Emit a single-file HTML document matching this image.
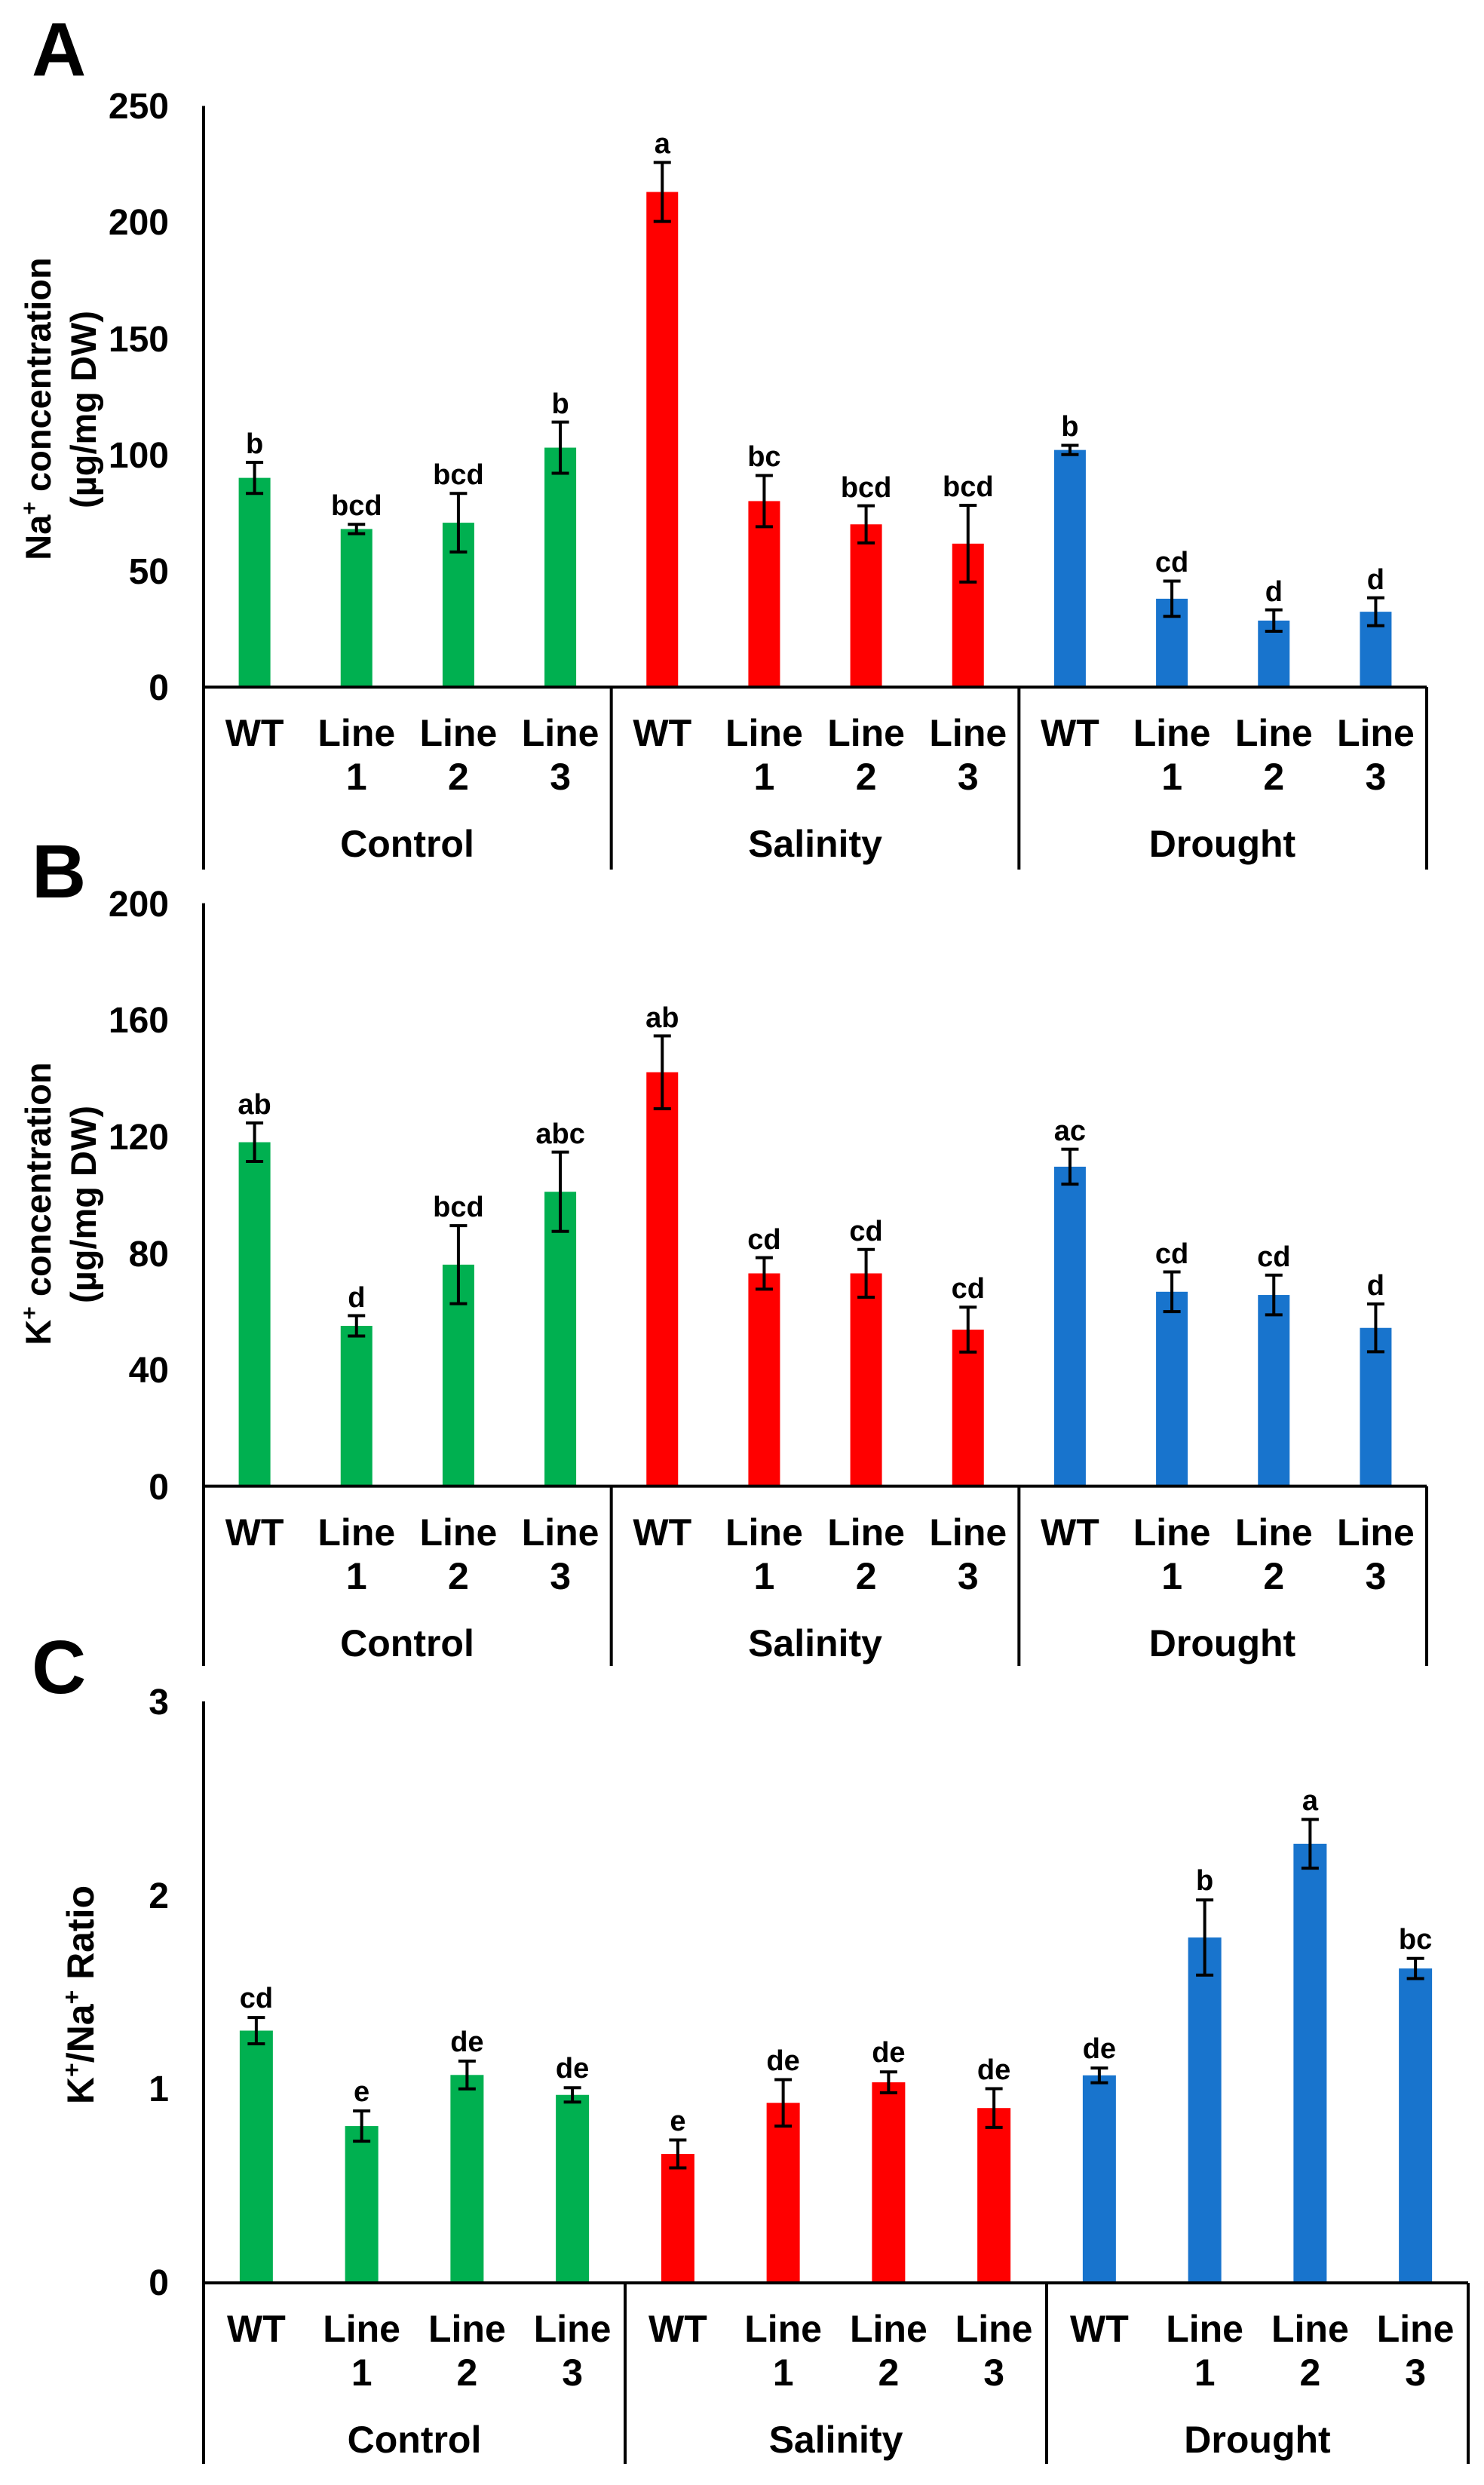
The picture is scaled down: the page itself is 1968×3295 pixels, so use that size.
<!DOCTYPE html>
<html><head><meta charset="utf-8"><style>
html,body{margin:0;padding:0;background:#fff;}
svg{display:block;}
text{font-family:"Liberation Sans",Arial,sans-serif;fill:#000;}
.b{font-weight:bold;}
.tk{font-size:48px;font-weight:bold;text-anchor:end;}
.cat{font-size:50px;font-weight:bold;text-anchor:middle;}
.lt{font-size:38px;font-weight:bold;text-anchor:middle;}
.ttl{font-size:50px;text-anchor:middle;}
.ttl2{font-size:47px;font-weight:bold;text-anchor:middle;}
.pl{font-size:100px;font-weight:bold;}
</style></head><body>
<svg id="s" width="1968" height="3295" viewBox="0 0 1968 3295" xmlns="http://www.w3.org/2000/svg">
<g id="g"></g>
<text class="pl" x="42" y="100">A</text>
<text class="pl" x="42" y="1190">B</text>
<text class="pl" x="42" y="2245">C</text>

<text class="tk" x="224" y="928">0</text>
<text class="tk" x="224" y="774">50</text>
<text class="tk" x="224" y="620">100</text>
<text class="tk" x="224" y="466">150</text>
<text class="tk" x="224" y="311">200</text>
<text class="tk" x="224" y="157">250</text>
<text class="ttl2" transform="translate(67,542) rotate(-90)">Na<tspan font-size="30" dy="-18">+</tspan><tspan dy="18"> concentration</tspan></text>
<text class="ttl2" transform="translate(127,543) rotate(-90)">(µg/mg DW)</text>

<text class="tk" x="224" y="1988">0</text>
<text class="tk" x="224" y="1833">40</text>
<text class="tk" x="224" y="1679">80</text>
<text class="tk" x="224" y="1524">120</text>
<text class="tk" x="224" y="1369">160</text>
<text class="tk" x="224" y="1215">200</text>
<text class="ttl2" transform="translate(67,1596) rotate(-90)">K<tspan font-size="30" dy="-18">+</tspan><tspan dy="18"> concentration</tspan></text>
<text class="ttl2" transform="translate(127,1597) rotate(-90)">(µg/mg DW)</text>

<text class="tk" x="224" y="3043">0</text>
<text class="tk" x="224" y="2786">1</text>
<text class="tk" x="224" y="2530">2</text>
<text class="tk" x="224" y="2273">3</text>
<text class="ttl b" transform="translate(124,2645) rotate(-90)">K<tspan font-size="32" dy="-18">+</tspan><tspan dy="18">/Na</tspan><tspan font-size="32" dy="-18">+</tspan><tspan dy="18"> Ratio</tspan></text>

<g>
<text class="cat" x="337.6" y="989">WT</text>
<text class="cat" x="472.8" y="989">Line</text><text class="cat" x="472.8" y="1047">1</text>
<text class="cat" x="607.9" y="989">Line</text><text class="cat" x="607.9" y="1047">2</text>
<text class="cat" x="743.1" y="989">Line</text><text class="cat" x="743.1" y="1047">3</text>
<text class="cat" x="878.3" y="989">WT</text>
<text class="cat" x="1013.4" y="989">Line</text><text class="cat" x="1013.4" y="1047">1</text>
<text class="cat" x="1148.6" y="989">Line</text><text class="cat" x="1148.6" y="1047">2</text>
<text class="cat" x="1283.8" y="989">Line</text><text class="cat" x="1283.8" y="1047">3</text>
<text class="cat" x="1418.9" y="989">WT</text>
<text class="cat" x="1554.1" y="989">Line</text><text class="cat" x="1554.1" y="1047">1</text>
<text class="cat" x="1689.3" y="989">Line</text><text class="cat" x="1689.3" y="1047">2</text>
<text class="cat" x="1824.4" y="989">Line</text><text class="cat" x="1824.4" y="1047">3</text>
<text class="cat" x="540" y="1136">Control</text>
<text class="cat" x="1081" y="1136">Salinity</text>
<text class="cat" x="1621" y="1136">Drought</text>
</g>
<g>
<text class="cat" x="337.6" y="2049">WT</text>
<text class="cat" x="472.8" y="2049">Line</text><text class="cat" x="472.8" y="2107">1</text>
<text class="cat" x="607.9" y="2049">Line</text><text class="cat" x="607.9" y="2107">2</text>
<text class="cat" x="743.1" y="2049">Line</text><text class="cat" x="743.1" y="2107">3</text>
<text class="cat" x="878.3" y="2049">WT</text>
<text class="cat" x="1013.4" y="2049">Line</text><text class="cat" x="1013.4" y="2107">1</text>
<text class="cat" x="1148.6" y="2049">Line</text><text class="cat" x="1148.6" y="2107">2</text>
<text class="cat" x="1283.8" y="2049">Line</text><text class="cat" x="1283.8" y="2107">3</text>
<text class="cat" x="1418.9" y="2049">WT</text>
<text class="cat" x="1554.1" y="2049">Line</text><text class="cat" x="1554.1" y="2107">1</text>
<text class="cat" x="1689.3" y="2049">Line</text><text class="cat" x="1689.3" y="2107">2</text>
<text class="cat" x="1824.4" y="2049">Line</text><text class="cat" x="1824.4" y="2107">3</text>
<text class="cat" x="540" y="2196">Control</text>
<text class="cat" x="1081" y="2196">Salinity</text>
<text class="cat" x="1621" y="2196">Drought</text>
</g>
<g>
<text class="cat" x="339.9" y="3105">WT</text>
<text class="cat" x="479.6" y="3105">Line</text><text class="cat" x="479.6" y="3163">1</text>
<text class="cat" x="619.4" y="3105">Line</text><text class="cat" x="619.4" y="3163">2</text>
<text class="cat" x="759.1" y="3105">Line</text><text class="cat" x="759.1" y="3163">3</text>
<text class="cat" x="898.9" y="3105">WT</text>
<text class="cat" x="1038.6" y="3105">Line</text><text class="cat" x="1038.6" y="3163">1</text>
<text class="cat" x="1178.4" y="3105">Line</text><text class="cat" x="1178.4" y="3163">2</text>
<text class="cat" x="1318.1" y="3105">Line</text><text class="cat" x="1318.1" y="3163">3</text>
<text class="cat" x="1457.9" y="3105">WT</text>
<text class="cat" x="1597.6" y="3105">Line</text><text class="cat" x="1597.6" y="3163">1</text>
<text class="cat" x="1737.4" y="3105">Line</text><text class="cat" x="1737.4" y="3163">2</text>
<text class="cat" x="1877.1" y="3105">Line</text><text class="cat" x="1877.1" y="3163">3</text>
<text class="cat" x="549.5" y="3252">Control</text>
<text class="cat" x="1108.5" y="3252">Salinity</text>
<text class="cat" x="1667.5" y="3252">Drought</text>
</g>

<text class="lt" x="337.6" y="601">b</text>
<text class="lt" x="472.8" y="683">bcd</text>
<text class="lt" x="607.9" y="642">bcd</text>
<text class="lt" x="743.1" y="548">b</text>
<text class="lt" x="878.3" y="203">a</text>
<text class="lt" x="1013.4" y="618">bc</text>
<text class="lt" x="1148.6" y="659">bcd</text>
<text class="lt" x="1283.8" y="658">bcd</text>
<text class="lt" x="1418.9" y="578">b</text>
<text class="lt" x="1554.1" y="758">cd</text>
<text class="lt" x="1689.3" y="797">d</text>
<text class="lt" x="1824.4" y="781">d</text>
<text class="lt" x="337.6" y="1477">ab</text>
<text class="lt" x="472.8" y="1733">d</text>
<text class="lt" x="607.9" y="1613">bcd</text>
<text class="lt" x="743.1" y="1516">abc</text>
<text class="lt" x="878.3" y="1362">ab</text>
<text class="lt" x="1013.4" y="1656">cd</text>
<text class="lt" x="1148.6" y="1645">cd</text>
<text class="lt" x="1283.8" y="1721">cd</text>
<text class="lt" x="1418.9" y="1512">ac</text>
<text class="lt" x="1554.1" y="1675">cd</text>
<text class="lt" x="1689.3" y="1679">cd</text>
<text class="lt" x="1824.4" y="1717">d</text>
<text class="lt" x="339.9" y="2662">cd</text>
<text class="lt" x="479.6" y="2786">e</text>
<text class="lt" x="619.4" y="2720">de</text>
<text class="lt" x="759.1" y="2755">de</text>
<text class="lt" x="898.9" y="2825">e</text>
<text class="lt" x="1038.6" y="2745">de</text>
<text class="lt" x="1178.4" y="2734">de</text>
<text class="lt" x="1318.1" y="2757">de</text>
<text class="lt" x="1457.9" y="2729">de</text>
<text class="lt" x="1597.6" y="2506">b</text>
<text class="lt" x="1737.4" y="2400">a</text>
<text class="lt" x="1877.1" y="2584">bc</text>
</svg>
<script>
(function(){
var NS="http://www.w3.org/2000/svg",g=document.getElementById("g");
function el(t,a){var e=document.createElementNS(NS,t);for(var k in a)e.setAttribute(k,a[k]);g.appendChild(e);return e;}
var cols=["#00B050","#00B050","#00B050","#00B050","#FF0000","#FF0000","#FF0000","#FF0000","#1874CD","#1874CD","#1874CD","#1874CD"];
var panels=[
 {x0:270,x1:1892,top:140.5,zero:911,k:3.082,bot:1153,bw:42,
  v:[90,68,70.7,103,213,80,70,61.7,102,38,28.6,32.4],
  e:[6.7,2,12.6,11,12.7,11,8,16.5,2,7.6,4.6,6]},
 {x0:270,x1:1892,top:1197.6,zero:1970.6,k:3.865,bot:2209,bw:42,
  v:[118,55,76,101,142,73,73,53.7,109.6,66.7,65.6,54.3],
  e:[6.6,3.5,13.4,13.6,12.5,5.4,8.2,7.7,6,6.8,6.8,8.2]},
 {x0:270,x1:1947,top:2256,zero:3027,k:256.7,bot:3267,bw:44,
  v:[1.303,0.81,1.074,0.971,0.666,0.93,1.036,0.903,1.072,1.784,2.268,1.624],
  e:[0.068,0.078,0.072,0.037,0.072,0.12,0.054,0.1,0.038,0.194,0.126,0.052]}
];
panels.forEach(function(p){
 var cw=(p.x1-p.x0)/12;
 for(var i=0;i<12;i++){
  var cx=p.x0+cw*(i+0.5),h=p.v[i]*p.k;
  el("rect",{x:cx-p.bw/2,y:p.zero-h,width:p.bw,height:h,fill:cols[i]});
 }
 for(var i=0;i<12;i++){
  var cx=p.x0+cw*(i+0.5),y1=p.zero-(p.v[i]+p.e[i])*p.k,y2=p.zero-(p.v[i]-p.e[i])*p.k;
  el("line",{x1:cx,x2:cx,y1:y1,y2:y2,stroke:"#000","stroke-width":4});
  el("line",{x1:cx-11.5,x2:cx+11.5,y1:y1,y2:y1,stroke:"#000","stroke-width":4});
  el("line",{x1:cx-11.5,x2:cx+11.5,y1:y2,y2:y2,stroke:"#000","stroke-width":4});
 }
 el("line",{x1:p.x0,x2:p.x0,y1:p.top,y2:p.bot,stroke:"#000","stroke-width":4});
 el("line",{x1:p.x0,x2:p.x1,y1:p.zero,y2:p.zero,stroke:"#000","stroke-width":4});
 var gw=(p.x1-p.x0)/3;
 [1,2,3].forEach(function(j){var x=p.x0+gw*j;el("line",{x1:x,x2:x,y1:p.zero,y2:p.bot,stroke:"#000","stroke-width":4});});
});
})();
</script>
</body></html>
